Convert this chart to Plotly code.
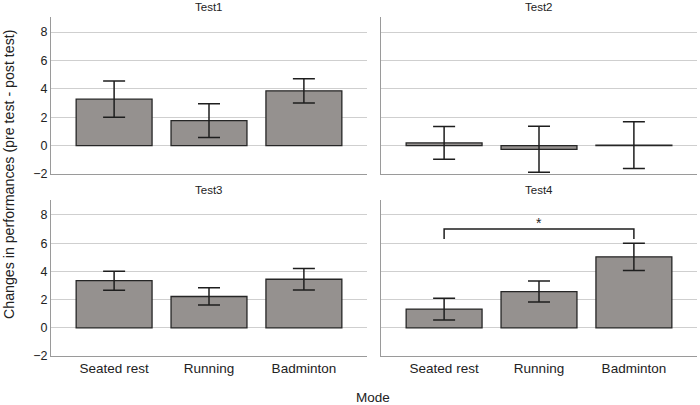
import plotly.graph_objects as go

categories = ["Seated rest", "Running", "Badminton"]
panel_titles = ["Test1", "Test2", "Test3", "Test4"]

test1_mean = [3.27, 1.76, 3.86]
test1_err = [1.28, 1.19, 0.85]
test2_mean = [0.19, -0.26, 0.03]
test2_err = [1.15, 1.62, 1.65]
test3_mean = [3.34, 2.22, 3.44]
test3_err = [0.67, 0.61, 0.76]
test4_mean = [1.33, 2.57, 5.03]
test4_err = [0.77, 0.75, 0.97]

bracket_x = ["Seated rest", "Seated rest", "Badminton", "Badminton"]
bracket_y = [6.3, 7.0, 7.0, 6.3]
star_x = "Running"
star_y = 7.0
star_label = "*"

y_ticks = [-2, 0, 2, 4, 6, 8]
y_ticktext = ["\u22122", "0", "2", "4", "6", "8"]
y_range = [-2, 9.06]

means = [test1_mean, test2_mean, test3_mean, test4_mean]
errs = [test1_err, test2_err, test3_err, test4_err]

W, H = 700, 405
FONT = "Liberation Sans, Arial, sans-serif"
TXT = "#222222"

# panel pixel geometry (left, right, top, bottom)
panels = [
    (51, 367, 17, 174),
    (381, 697, 17, 174),
    (51, 367, 200, 356),
    (381, 697, 200, 356),
]

fig = go.Figure()
layout = {}
for i, (l, r, t, b) in enumerate(panels):
    n = i + 1
    xa = "x" if n == 1 else f"x{n}"
    ya = "y" if n == 1 else f"y{n}"
    xkey = "xaxis" if n == 1 else f"xaxis{n}"
    ykey = "yaxis" if n == 1 else f"yaxis{n}"
    fig.add_trace(go.Bar(
        x=categories, y=means[i], xaxis=xa, yaxis=ya,
        width=0.8,
        marker=dict(color="#95918f", line=dict(color="#262626", width=1.3)),
        error_y=dict(type="data", array=errs[i], visible=True,
                     color="#1e1e1e", thickness=1.5, width=11),
        showlegend=False,
    ))
    layout[xkey] = dict(
        domain=[l / W, r / W], anchor=ya, type="category", automargin=False,
        categoryorder="array", categoryarray=categories,
        range=[-0.665, 2.665], showline=True, linecolor="#9a9a9a", linewidth=1,
        showgrid=False, ticks="", showticklabels=(n >= 3),
        tickfont=dict(family=FONT, size=13.5, color=TXT),
    )
    layout[ykey] = dict(
        domain=[1 - b / H, 1 - t / H], anchor=xa, range=y_range, automargin=False,
        tickvals=y_ticks, ticktext=y_ticktext,
        showline=True, linecolor="#9a9a9a", linewidth=1,
        showgrid=True, gridcolor="#cfcfcf", gridwidth=1, zeroline=False,
        ticks="", showticklabels=(n in (1, 3)),
        tickfont=dict(family=FONT, size=12.5, color=TXT),
    )

fig.add_trace(go.Scatter(
    x=bracket_x, y=bracket_y, xaxis="x4", yaxis="y4", mode="lines",
    line=dict(color="#1e1e1e", width=1.5), showlegend=False, hoverinfo="skip",
))

annotations = []
for i, (l, r, t, b) in enumerate(panels):
    annotations.append(dict(
        x=(l + r) / 2 / W, y=1 - (t - 10) / H, xref="paper", yref="paper",
        text=panel_titles[i], showarrow=False, xanchor="center", yanchor="middle",
        font=dict(family=FONT, size=11.5, color=TXT),
    ))
annotations.append(dict(
    x=star_x, y=star_y, xref="x4", yref="y4", text=star_label, showarrow=False,
    yanchor="bottom", yshift=-4, font=dict(family=FONT, size=14, color=TXT),
))
annotations.append(dict(
    x=373 / W, y=1 - 397 / H, xref="paper", yref="paper", text="Mode",
    showarrow=False, xanchor="center", yanchor="middle",
    font=dict(family=FONT, size=13.5, color=TXT),
))
annotations.append(dict(
    x=9 / W, y=1 - 175 / H, xref="paper", yref="paper",
    text="Changes in performances (pre test - post test)",
    showarrow=False, textangle=-90, xanchor="center", yanchor="middle",
    font=dict(family=FONT, size=14.2, color=TXT),
))

fig.update_layout(
    width=W, height=H, margin=dict(l=0, r=0, t=0, b=0),
    paper_bgcolor="white", plot_bgcolor="white",
    bargap=0.2, annotations=annotations, **layout,
)

fig.write_html(
    "out.html",
    config={"displayModeBar": False},
    post_script="document.body.style.margin='0';document.body.style.overflow='hidden';",
)
